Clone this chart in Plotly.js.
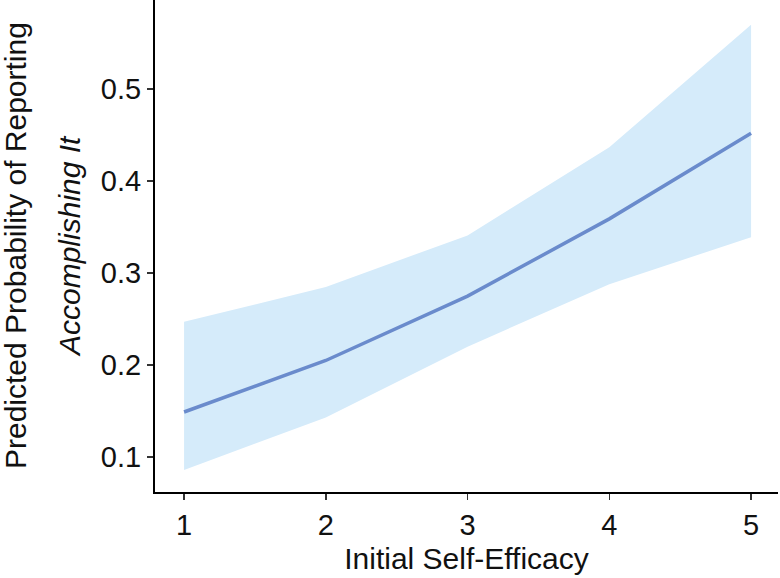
<!DOCTYPE html>
<html>
<head>
<meta charset="utf-8">
<script src="https://cdn.plot.ly/plotly-3.0.1.min.js"></script>
<style>
html,body{margin:0;padding:0;background:#fff;}
#chart{width:780px;height:578px;}
</style>
</head>
<body>
<div id="chart"></div>
<script>
var efficacy = [1, 2, 3, 4, 5];
var predicted = [0.149, 0.205, 0.275, 0.359, 0.452];
var upperCI = [0.247, 0.285, 0.341, 0.437, 0.570];
var lowerCI = [0.086, 0.143, 0.220, 0.288, 0.339];
var xTickVals = [1, 2, 3, 4, 5];
var yTickVals = [0.1, 0.2, 0.3, 0.4, 0.5];
var xTitle = "Initial Self-Efficacy";
var yTitleLine1 = "Predicted Probability of Reporting";
var yTitleLine2 = "<i>Accomplishing It</i>";

var FONT = "Liberation Sans, Arial, sans-serif";

var traces = [
  {x: efficacy, y: lowerCI, type: "scatter", mode: "lines",
   line: {width: 0, color: "rgba(0,0,0,0)"}, hoverinfo: "skip", showlegend: false},
  {x: efficacy, y: upperCI, type: "scatter", mode: "lines", fill: "tonexty",
   fillcolor: "#d5ebfa", line: {width: 0, color: "rgba(0,0,0,0)"}, showlegend: false},
  {x: efficacy, y: predicted, type: "scatter", mode: "lines",
   line: {width: 3.5, color: "#6a8bcc"}, showlegend: false}
];

var layout = {
  width: 780, height: 578,
  margin: {l: 155, r: 2, t: 0, b: 86},
  paper_bgcolor: "#fff", plot_bgcolor: "#fff",
  font: {family: FONT, color: "#111"},
  xaxis: {
    range: [0.795, 5.19], tickvals: xTickVals, ticktext: xTickVals.map(String),
    showgrid: false, zeroline: false, showline: true, linecolor: "#000", linewidth: 2,
    ticks: "outside", ticklen: 6, tickwidth: 1.5, tickcolor: "#333",
    tickfont: {size: 29, family: FONT, color: "#111"},
    title: {text: xTitle, font: {size: 30, family: FONT, color: "#111"}, standoff: 8}
  },
  yaxis: {
    range: [0.062, 0.597], tickvals: yTickVals, ticktext: yTickVals.map(function(v){return v.toFixed(1);}),
    showgrid: false, zeroline: false, showline: true, linecolor: "#000", linewidth: 2,
    ticks: "outside", ticklen: 6, tickwidth: 1.5, tickcolor: "#333",
    tickfont: {size: 29, family: FONT, color: "#111"}
  },
  annotations: [
    {text: yTitleLine1, xref: "paper", yref: "paper", x: 0, y: 0.5, xanchor: "center", yanchor: "middle",
     xshift: -140, textangle: -90, showarrow: false, font: {size: 30, family: FONT, color: "#111"}},
    {text: yTitleLine2, xref: "paper", yref: "paper", x: 0, y: 0.5, xanchor: "center", yanchor: "middle",
     xshift: -86, textangle: -90, showarrow: false, font: {size: 30, family: FONT, color: "#111"}}
  ]
};

Plotly.newPlot("chart", traces, layout, {displayModeBar: false, staticPlot: true});
</script>
</body>
</html>
